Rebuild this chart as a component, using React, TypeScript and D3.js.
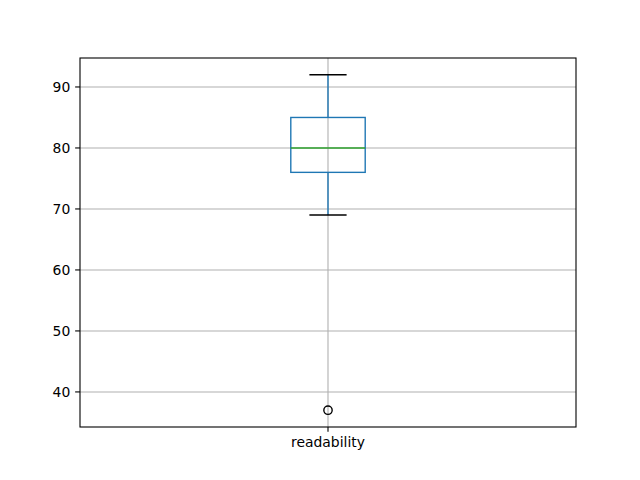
import React from "react";
import * as d3 from "d3";

const categories = ["readability"];
const whiskerLow = [69];
const q1 = [76];
const medians = [80];
const q3 = [85];
const whiskerHigh = [92];
const outliers = [[37]];
const yTicks = [40, 50, 60, 70, 80, 90];

const W = 640;
const H = 480;
const L = 80, R = 576, T = 58, B = 427;

export default function App() {
  const allVals = [...whiskerLow, ...whiskerHigh, ...outliers.flat()];
  const lo = d3.min(allVals)!;
  const hi = d3.max(allVals)!;
  const pad = (hi - lo) * 0.05;
  const y = d3.scaleLinear().domain([lo - pad, hi + pad]).range([B, T]);
  const x = d3.scaleLinear().domain([0.5, categories.length + 0.5]).range([L, R]);
  const boxW = 0.15;
  const capW = boxW / 2;
  const tickLen = 4.86;
  const font = "DejaVu Sans, sans-serif";
  const blue = "#1f77b4";

  return (
    <svg width={W} height={H} style={{ position: "absolute", left: 0, top: 0 }} fontFamily={font}>
      <rect x={0} y={0} width={W} height={H} fill="#fff" />
      {/* grid */}
      {yTicks.map((t) => (
        <line key={"gy" + t} x1={L} x2={R} y1={y(t)} y2={y(t)} stroke="#b0b0b0" strokeWidth={1.1} />
      ))}
      {categories.map((c, i) => (
        <line key={"gx" + c} x1={x(i + 1)} x2={x(i + 1)} y1={T} y2={B} stroke="#b0b0b0" strokeWidth={1.1} />
      ))}
      {/* boxes */}
      {categories.map((c, i) => {
        const cx = x(i + 1);
        const bx0 = x(i + 1 - boxW / 2);
        const bx1 = x(i + 1 + boxW / 2);
        const cx0 = x(i + 1 - capW / 2);
        const cx1 = x(i + 1 + capW / 2);
        return (
          <g key={"b" + c}>
            <line x1={cx} x2={cx} y1={y(q1[i])} y2={y(whiskerLow[i])} stroke={blue} strokeWidth={1.39} />
            <line x1={cx} x2={cx} y1={y(q3[i])} y2={y(whiskerHigh[i])} stroke={blue} strokeWidth={1.39} />
            <line x1={cx0} x2={cx1} y1={y(whiskerLow[i])} y2={y(whiskerLow[i])} stroke="#000" strokeWidth={1.39} />
            <line x1={cx0} x2={cx1} y1={y(whiskerHigh[i])} y2={y(whiskerHigh[i])} stroke="#000" strokeWidth={1.39} />
            <rect x={bx0} y={y(q3[i])} width={bx1 - bx0} height={y(q1[i]) - y(q3[i])} fill="none" stroke={blue} strokeWidth={1.39} />
            <line x1={bx0} x2={bx1} y1={y(medians[i])} y2={y(medians[i])} stroke="#2ca02c" strokeWidth={1.39} />
            {outliers[i].map((v, j) => (
              <circle key={j} cx={cx} cy={y(v)} r={4.17} fill="none" stroke="#000" strokeWidth={1.39} />
            ))}
          </g>
        );
      })}
      {/* spines */}
      <rect x={L} y={T} width={R - L} height={B - T} fill="none" stroke="#000" strokeWidth={1.1} />
      {/* y ticks */}
      {yTicks.map((t) => (
        <g key={"yt" + t}>
          <line x1={L - tickLen} x2={L} y1={y(t)} y2={y(t)} stroke="#000" strokeWidth={1.1} />
          <text x={L - tickLen - 4.86} y={y(t)} dy="0.35em" textAnchor="end" fontSize={13.9} fill="#000">
            {t}
          </text>
        </g>
      ))}
      {/* x ticks */}
      {categories.map((c, i) => (
        <g key={"xt" + c}>
          <line x1={x(i + 1)} x2={x(i + 1)} y1={B} y2={B + tickLen} stroke="#000" strokeWidth={1.1} />
          <text x={x(i + 1)} y={B + tickLen + 4.86} dy="0.76em" textAnchor="middle" fontSize={13.9} fill="#000">
            {c}
          </text>
        </g>
      ))}
    </svg>
  );
}
